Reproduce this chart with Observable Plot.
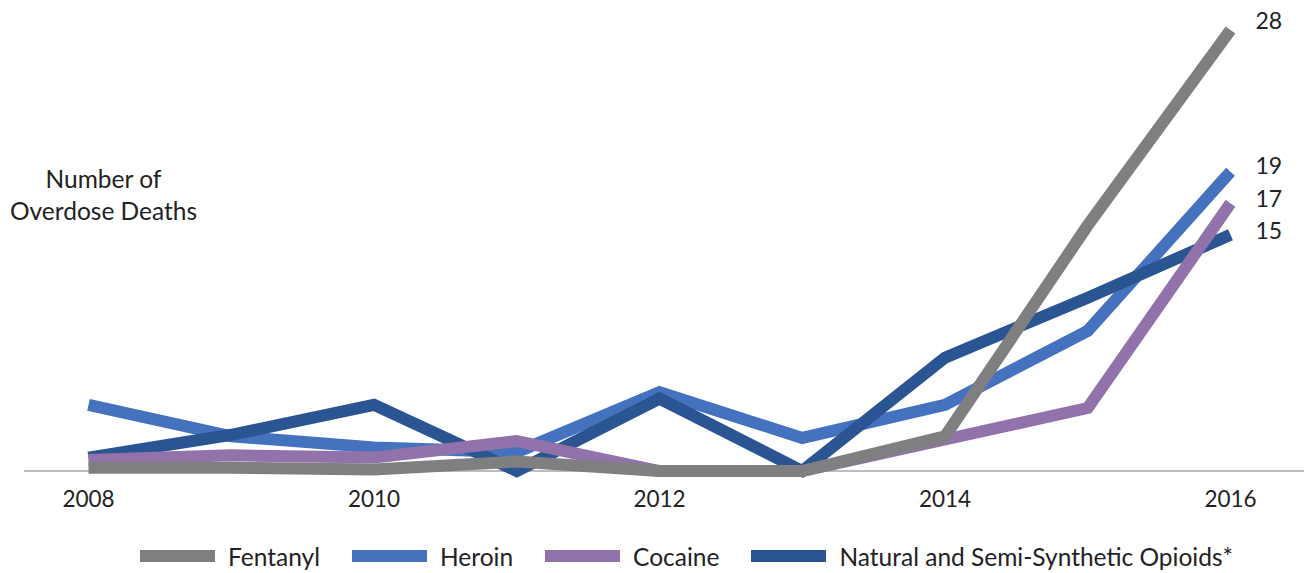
<!DOCTYPE html>
<html>
<head>
<meta charset="utf-8">
<script src="https://cdn.jsdelivr.net/npm/d3@7"></script>
<script src="https://cdn.jsdelivr.net/npm/@observablehq/plot@0.6"></script>
<style>
  html, body { margin: 0; padding: 0; background: #fff; }
  body { width: 1304px; height: 573px; overflow: hidden; font-family: Lato, "Open Sans", sans-serif; color: #222; }
  #legend { display: flex; align-items: center; height: 52px; padding-left: 140px; font-size: 24.5px; }
  .item { display: flex; align-items: center; margin-right: 32px; }
  .sw { width: 75px; height: 12px; margin-right: 13px; }
</style>
</head>
<body>
<div id="chart"></div>
<div id="legend"></div>
<script>
// Overdose deaths by drug, yearly
const years = [2008, 2009, 2010, 2011, 2012, 2013, 2014, 2015, 2016];
const tickYears = [2008, 2010, 2012, 2014, 2016];

const fentanyl = [0.2, 0.2, 0.1, 0.6, 0, 0, 2.2, 15.6, 28];
const heroin   = [4.2, 2.2, 1.5, 1.2, 5.0, 2.1, 4.2, 8.9, 19];
const cocaine  = [0.7, 1.0, 0.85, 1.9, 0, 0, 2.0, 4.0, 17];
const natural  = [0.85, 2.3, 4.2, 0, 4.6, 0, 7.2, 11.0, 15];

const seriesNames = ["Fentanyl", "Heroin", "Cocaine", "Natural and Semi-Synthetic Opioids*"];
const seriesValues = [fentanyl, heroin, cocaine, natural];

// styling per series (colour, vertical nudge of the end label)
const styles = {
  "Fentanyl": {color: "#7f7f81", labelDy: -8},
  "Heroin": {color: "#4572bf", labelDy: -5},
  "Cocaine": {color: "#9272aa", labelDy: -4},
  "Natural and Semi-Synthetic Opioids*": {color: "#2b5592", labelDy: -3}
};
// bottom-to-top stacking of the lines
const drawOrder = ["Heroin", "Natural and Semi-Synthetic Opioids*", "Cocaine", "Fentanyl"];

const series = seriesNames.map((name, i) => ({
  name,
  points: years.map((year, j) => ({year, value: seriesValues[i][j]}))
}));
const byName = Object.fromEntries(series.map(s => [s.name, s]));

const lineMarks = drawOrder.map(name => Plot.line(byName[name].points, {
  x: "year", y: "value",
  stroke: styles[name].color, strokeWidth: 12,
  strokeLinejoin: "miter", strokeMiterlimit: 10, strokeLinecap: "butt"
}));

const endLabels = series.map(s => Plot.text([s.points[s.points.length - 1]], {
  x: "year", y: "value", text: d => String(d.value),
  dx: 25, dy: styles[s.name].labelDy, textAnchor: "start",
  fontSize: 23, fill: "#222"
}));

const chart = Plot.plot({
  width: 1304,
  height: 530,
  marginLeft: 24, marginRight: 0, marginTop: 0, marginBottom: 59.5,
  x: {domain: [2008, 2016], range: [88, 1230], axis: null},
  y: {domain: [0, 30], range: [470.5, 470.5 - 30 * 15.75], axis: null},
  style: {fontFamily: "Lato, 'Open Sans', sans-serif", fontSize: "22px", color: "#222", background: "#fff", overflow: "visible"},
  marks: [
    Plot.ruleY([0], {stroke: "#a6a6a6", strokeWidth: 1.3}),
    ...lineMarks,
    ...endLabels,
    Plot.axisX({ticks: tickYears, tickFormat: d => String(d), tickSize: 0, tickPadding: 20, fontSize: 22.5, fill: "#222", label: null}),
    Plot.text(["Number of\nOverdose Deaths"], {
      frameAnchor: "top-left", dx: 79, dy: 193,
      textAnchor: "middle", lineAnchor: "middle", lineHeight: 1.3,
      fontSize: 24.5, fill: "#222"
    })
  ]
});
document.getElementById("chart").appendChild(chart);

// legend below the chart
const legend = d3.select("#legend");
seriesNames.forEach(name => {
  const item = legend.append("div").attr("class", "item");
  item.append("div").attr("class", "sw").style("background", styles[name].color);
  item.append("span").text(name);
});
</script>
</body>
</html>
